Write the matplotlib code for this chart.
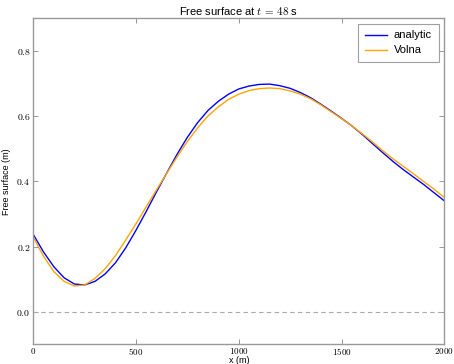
import matplotlib
matplotlib.use('Agg')
import matplotlib.pyplot as plt
from matplotlib.ticker import FuncFormatter

plt.rcParams['mathtext.fontset'] = 'cm'
plt.rcParams['font.family'] = ['Liberation Sans', 'DejaVu Sans']

# free surface profile at t = 48 s, sampled every 50 m
x = [0, 50, 100, 150, 200, 250, 300, 350, 400, 450, 500, 550, 600, 650, 700,
     750, 800, 850, 900, 950, 1000, 1050, 1100, 1150, 1200, 1250, 1300, 1350,
     1400, 1450, 1500, 1550, 1600, 1650, 1700, 1750, 1800, 1850, 1900, 1950,
     2000]
eta_analytic = [0.237, 0.183, 0.138, 0.104, 0.085, 0.082, 0.093, 0.116, 0.150,
                0.196, 0.250, 0.308, 0.368, 0.426, 0.483, 0.535, 0.580, 0.617,
                0.645, 0.667, 0.683, 0.692, 0.697, 0.698, 0.693, 0.685, 0.672,
                0.656, 0.636, 0.615, 0.593, 0.570, 0.544, 0.516, 0.488, 0.461,
                0.436, 0.413, 0.390, 0.365, 0.340]
eta_volna = [0.229, 0.170, 0.123, 0.093, 0.079, 0.082, 0.102, 0.132, 0.172,
             0.220, 0.270, 0.322, 0.374, 0.425, 0.475, 0.522, 0.564, 0.600,
             0.628, 0.651, 0.667, 0.678, 0.684, 0.686, 0.684, 0.677, 0.667,
             0.653, 0.634, 0.613, 0.592, 0.570, 0.546, 0.521, 0.494, 0.469,
             0.446, 0.423, 0.399, 0.376, 0.350]
xticks = [0, 500, 1000, 1500, 2000]
yticks = [0.0, 0.2, 0.4, 0.6, 0.8]

fig = plt.figure(figsize=(4.54, 3.64), dpi=100)
ax = fig.add_axes([0.0733, 0.054, 0.9053, 0.896])

ax.plot(x, eta_analytic, color='#0000ff', lw=1.0, label='analytic')
ax.plot(x, eta_volna, color='orange', lw=1.0, label='Volna')
ax.axhline(0.0, color='#aaaaaa', lw=0.8, ls=(0, (4, 3)))

ax.set_xlim(0, 2000)
ax.set_ylim(-0.1, 0.9)
ax.set_xticks(xticks)
ax.set_yticks(yticks)
ax.xaxis.set_major_formatter(FuncFormatter(lambda v, p: r'$%d$' % v))
ax.yaxis.set_major_formatter(FuncFormatter(lambda v, p: r'$%.1f$' % v))
ax.tick_params(direction='in', top=True, right=True, length=3.5, width=0.6,
               color='#888888', labelsize=7, pad=2)
ax.tick_params(axis='x', pad=1, labelsize=6.5)
for s in ax.spines.values():
    s.set_color('#999999')
    s.set_linewidth(1.0)

ax.set_title(r'Free surface at $t\,=\,48$ s', fontsize=8, pad=2)
ax.set_xlabel('x (m)', fontsize=6.5, labelpad=-0.5)
ax.set_ylabel('Free surface (m)', fontsize=6.5, labelpad=4)

leg = ax.legend(loc='upper right', fontsize=8, fancybox=False,
                handlelength=2.0, handletextpad=0.6, borderpad=0.6,
                labelspacing=0.45, borderaxespad=0.5)
leg.get_frame().set_edgecolor('#888888')
leg.get_frame().set_linewidth(0.8)

fig.savefig('out.png', dpi=100)
